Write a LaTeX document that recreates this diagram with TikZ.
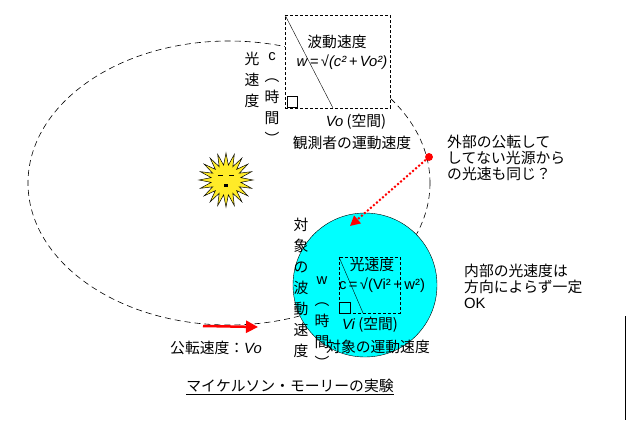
\documentclass[tikz,border=0pt]{standalone}
\usepackage{fontspec}
\setmainfont{Noto Sans CJK JP}
\newfontfamily\lat{Liberation Sans}
\usetikzlibrary{arrows.meta}
\definecolor{cy}{RGB}{0,255,255}
\definecolor{sun}{RGB}{255,235,40}
\begin{document}
\begin{tikzpicture}[x=1pt,y=-1pt,
  txt/.style={inner sep=0pt,font=\fontsize{14.8}{16}\selectfont},
  vt/.style={txt,align=center,font=\fontsize{14.8}{21}\selectfont},
  dbox/.style={draw,densely dashed,fill=white},
  orbit/.style={draw,dash pattern=on 6pt off 4pt,black,line width=0.6pt}]
\useasboundingbox (0,0) rectangle (626,422);
\draw[orbit] (229,183) ellipse [x radius=201,y radius=142];
% top box
\node[dbox,minimum width=105pt,minimum height=93pt,anchor=north west,inner sep=0pt] (tb) at (285,15) {};
\coordinate (t1) at (285,15); \coordinate (t2) at (333,108);
\draw (t1) -- (t2);
\draw (287,96) rectangle (297,107);
\node[txt,fill=white] (a1) at (337,42) {波動速度};
\node[txt] (a2) at (342,62) {\lat\itshape w\,=\,√(c²\,+\,Vo²)};
\node[txt] (a3) at (356,122) {{\lat\itshape Vo} (空間)};
\node[txt] (a4) at (352,143) {観測者の運動速度};
\node[vt,fill=white,anchor=north] (a5) at (252,52) {光\\速\\度};
\node[vt,fill=white,anchor=north] (a6) at (272,52) {{\lat c}\\︵\\時\\間\\︶};
% circle
\node[circle,draw,fill=cy,minimum size=144pt] (cc) at (365,285) {};
\draw[densely dashed] (339,257) rectangle (400,313);
\draw (339,257) -- (363,313);
\draw (339,302) rectangle (350,313);
\node[txt] (b1) at (372,265) {光速度};
\node[txt] (b2) at (382,285) {\lat c\,=\,√(Vi²\,+\,w²)};
\node[txt] (b3) at (370,325) {{\lat\itshape Vi} (空間)};
\node[txt] (b4) at (378,347) {対象の運動速度};
\node[vt,anchor=north] (b5) at (301,218) {対\\象\\の\\波\\動\\速\\度};
\node[vt,anchor=north] (b6) at (322,276) {{\lat w}\\︵\\時\\間\\︶};
% sun
\begin{scope}[shift={(226,180)}]
\fill[sun,draw=black,line width=0.5pt] plot[samples=41,domain=0:360] (\x:{mod(round(\x/9),2)==0 ? 27 : 15}) -- cycle;
\draw[line width=1pt] (-8,-4) -- (-3,-4) (3,-4) -- (8,-4);
\fill (-2,4) rectangle (2,7);
\end{scope}
% red dotted
\node[circle,fill=red,inner sep=2.8pt] (rd) at (429,157) {};
\coordinate (ra) at (350,226);
\draw[red,line width=2pt,dotted,-{Triangle[width=10pt,length=10pt]}] (rd) -- (ra);
\node[txt,align=left,anchor=west] (c1) at (447,158) {\fontsize{14.8}{21}\selectfont 外部の公転して\\してない光源から\\の光速も同じ？};
\node[txt,align=left,anchor=west] (c2) at (464,286) {\fontsize{14.8}{21}\selectfont 内部の光速度は\\方向によらず一定\\{\lat OK}};
\coordinate (o1) at (203,326); \coordinate (o2) at (258,327);
\draw[red,line width=2.5pt,-{Triangle[width=12pt,length=12pt]}] (o1) -- (o2);
\node[txt] (d1) at (216,348) {公転速度：{\lat\itshape Vo}};
\node[txt] (d2) at (290,387) {\underline{マイケルソン・モーリーの実験}};
\coordinate (l1) at (625,316); \coordinate (l2) at (625,420);
\draw (l1) -- (l2);
\end{tikzpicture}
\end{document}
